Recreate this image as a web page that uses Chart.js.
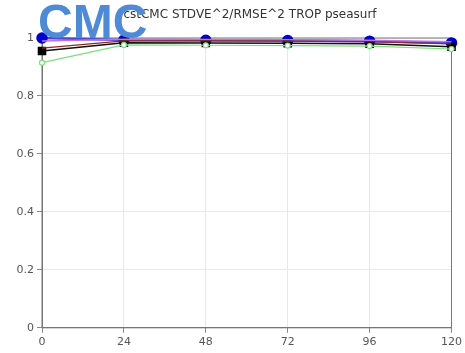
<!DOCTYPE html>
<html>
<head>
<meta charset="utf-8">
<script src="https://cdn.jsdelivr.net/npm/chart.js@4/dist/chart.umd.min.js"></script>
<style>
  html, body { margin: 0; padding: 0; background: #fff; }
  #wrap { width: 465px; height: 353px; position: relative; }
</style>
</head>
<body>
<div id="wrap"><canvas id="chart"></canvas></div>
<script>
// forecast hours and series values
const hours = [0, 24, 48, 72, 96, 120];
const blueVals = [1.0, 0.993, 0.992, 0.991, 0.989, 0.983];
const magentaVals = [0.99, 0.996, 0.995, 0.994, 0.992, 0.987];
const redVals = [0.965, 0.99, 0.99, 0.989, 0.987, 0.98];
const blackVals = [0.955, 0.984, 0.983, 0.982, 0.98, 0.97];
const greenVals = [0.915, 0.976, 0.975, 0.974, 0.972, 0.962];
const yTicks = [0, 0.2, 0.4, 0.6, 0.8, 1];

function pts(vals) {
  return hours.map((h, i) => ({ x: h, y: vals[i] }));
}

// title + CMC logo drawn on top of the chart
const overlay = {
  id: 'overlay',
  afterDraw(chart) {
    const c = chart.ctx;
    c.save();
    c.fillStyle = '#333';
    c.font = '12px "DejaVu Sans"';
    c.textAlign = 'center';
    c.textBaseline = 'middle';
    c.fillText('cstCMC STDVE^2/RMSE^2 TROP pseasurf', 250, 15);
    c.fillStyle = '#4f8ad6';
    c.font = 'bold 48px "Liberation Sans"';
    c.textAlign = 'left';
    c.textBaseline = 'alphabetic';
    c.fillText('CMC', 38, 38);
    c.restore();
  }
};

new Chart(document.getElementById('chart'), {
  type: 'line',
  data: {
    datasets: [
      { data: pts(greenVals), borderColor: '#7be07b', borderWidth: 1.2, pointStyle: 'circle', pointRadius: 2.5, pointBackgroundColor: '#fff', pointBorderColor: '#7be07b', clip: false },
      { data: pts(redVals), borderColor: '#8b2a2a', borderWidth: 1.2, pointRadius: 0, clip: false },
      { data: pts(magentaVals), borderColor: '#c070e0', borderWidth: 1.5, pointRadius: 0, clip: false },
      { data: pts(blackVals), borderColor: '#111', borderWidth: 1.5, pointStyle: 'rect', pointRadius: 5, pointBackgroundColor: '#000', pointBorderColor: '#000', clip: false },
      { data: pts(blueVals), borderColor: '#4a4ad0', borderWidth: 2.5, pointStyle: 'circle', pointRadius: 4.5, pointBackgroundColor: '#0000d0', pointBorderColor: '#0000d0', clip: false }
    ]
  },
  options: {
    animation: false,
    responsive: true,
    maintainAspectRatio: false,
    layout: { padding: { top: 38, right: 12, bottom: 1, left: 4 } },
    plugins: { legend: { display: false }, tooltip: { enabled: false } },
    scales: {
      x: {
        type: 'linear', min: 0, max: 120,
        afterBuildTicks: (s) => { s.ticks = hours.map(v => ({ value: v })); },
        grid: { color: '#e8e8e8', tickLength: 5, tickColor: '#888' },
        border: { color: '#777' },
        ticks: { color: '#555', font: { size: 11, family: 'DejaVu Sans' }, maxRotation: 0 }
      },
      y: {
        min: 0, max: 1,
        afterBuildTicks: (s) => { s.ticks = yTicks.map(v => ({ value: v })); },
        afterFit: (s) => { s.width = 38; },
        grid: { color: '#e8e8e8', tickLength: 5, tickColor: '#888' },
        border: { color: '#777' },
        ticks: { color: '#555', font: { size: 11, family: 'DejaVu Sans' }, callback: (v) => String(v) }
      }
    }
  },
  plugins: [overlay, {
    id: 'frame',
    beforeDatasetsDraw(chart) {
      const { ctx, chartArea: a } = chart;
      ctx.save();
      ctx.strokeStyle = '#777';
      ctx.lineWidth = 1;
      ctx.strokeRect(a.left, a.top, a.right - a.left, a.bottom - a.top);
      ctx.restore();
    }
  }]
});
</script>
</body>
</html>
